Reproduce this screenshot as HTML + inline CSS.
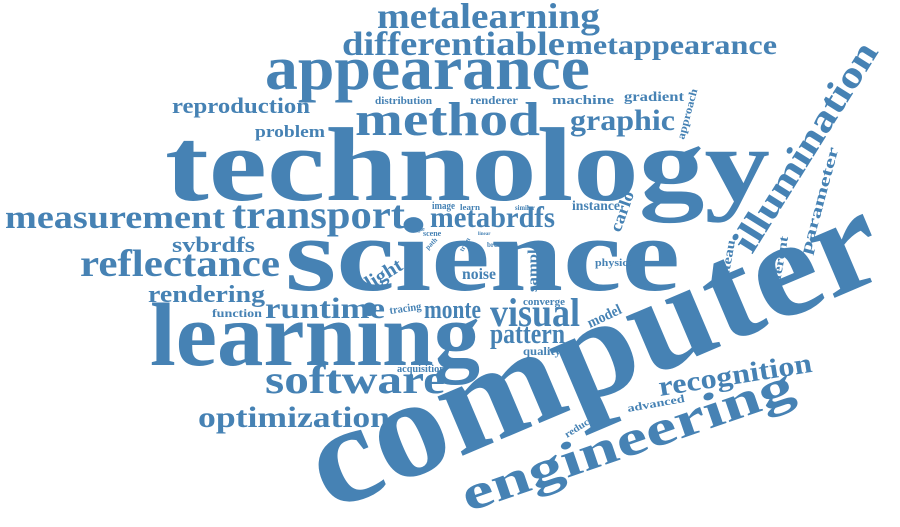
<!DOCTYPE html>
<html><head><meta charset="utf-8"><style>
html,body{margin:0;padding:0;background:#fff;}
svg{display:block}
text{font-family:"Liberation Serif",serif;font-weight:bold;fill:#4682b4;}
</style></head><body>
<svg width="900" height="527" viewBox="0 0 900 527">
<text x="377" y="28" font-size="36" textLength="223" lengthAdjust="spacingAndGlyphs">metalearning</text>
<text x="342" y="55" font-size="34" textLength="223" lengthAdjust="spacingAndGlyphs">differentiable</text>
<text x="566" y="54" font-size="27" textLength="211" lengthAdjust="spacingAndGlyphs">metappearance</text>
<text x="265" y="89" font-size="62" textLength="325" lengthAdjust="spacingAndGlyphs">appearance</text>
<text x="172" y="113" font-size="22" textLength="138" lengthAdjust="spacingAndGlyphs">reproduction</text>
<text x="375" y="104" font-size="11" textLength="57" lengthAdjust="spacingAndGlyphs">distribution</text>
<text x="470" y="104" font-size="12" textLength="48" lengthAdjust="spacingAndGlyphs">renderer</text>
<text x="552" y="104" font-size="13" textLength="62" lengthAdjust="spacingAndGlyphs">machine</text>
<text x="624" y="101" font-size="14" textLength="60" lengthAdjust="spacingAndGlyphs">gradient</text>
<text x="355" y="135" font-size="48" textLength="185" lengthAdjust="spacingAndGlyphs">method</text>
<text x="570" y="130" font-size="30" textLength="105" lengthAdjust="spacingAndGlyphs">graphic</text>
<text x="255" y="137" font-size="17" textLength="70" lengthAdjust="spacingAndGlyphs">problem</text>
<text transform="translate(684,140) rotate(-75)" font-size="11" textLength="52" lengthAdjust="spacingAndGlyphs">approach</text>
<text x="165" y="200" font-size="105" textLength="605" lengthAdjust="spacingAndGlyphs">technology</text>
<text x="5" y="228" font-size="33" textLength="220" lengthAdjust="spacingAndGlyphs">measurement</text>
<text x="232" y="228" font-size="40" textLength="173" lengthAdjust="spacingAndGlyphs">transport</text>
<text x="430" y="227" font-size="30" textLength="125" lengthAdjust="spacingAndGlyphs">metabrdfs</text>
<text x="432" y="209" font-size="10" textLength="23" lengthAdjust="spacingAndGlyphs">image</text>
<text x="460" y="210" font-size="8" textLength="20" lengthAdjust="spacingAndGlyphs">learn</text>
<text x="515" y="210" font-size="7" textLength="20" lengthAdjust="spacingAndGlyphs">similar</text>
<text x="572" y="210" font-size="14" textLength="48" lengthAdjust="spacingAndGlyphs">instance</text>
<text transform="translate(620,233) rotate(-70)" font-size="17" textLength="42" lengthAdjust="spacingAndGlyphs">carlo</text>
<text x="410" y="231" font-size="6">single</text>
<text x="423" y="236" font-size="8">scene</text>
<text x="478" y="235" font-size="5">linear</text>
<text transform="translate(428,250) rotate(-45)" font-size="7">path</text>
<text transform="translate(463,252) rotate(-60)" font-size="7">train</text>
<text x="487" y="247" font-size="7">brdf</text>
<text x="172" y="252" font-size="22" textLength="83" lengthAdjust="spacingAndGlyphs">svbrdfs</text>
<text x="285" y="290" font-size="105" textLength="395" lengthAdjust="spacingAndGlyphs">science</text>
<text x="80" y="276" font-size="38" textLength="200" lengthAdjust="spacingAndGlyphs">reflectance</text>
<text transform="translate(370,290) rotate(-32)" font-size="20" textLength="40" lengthAdjust="spacingAndGlyphs">light</text>
<text x="462" y="279" font-size="16" textLength="34" lengthAdjust="spacingAndGlyphs">noise</text>
<text transform="translate(537,292) rotate(-90)" font-size="14" textLength="50" lengthAdjust="spacingAndGlyphs">sample</text>
<text x="595" y="266" font-size="10" textLength="42" lengthAdjust="spacingAndGlyphs">physical</text>
<text transform="translate(726,292) rotate(-80)" font-size="13" textLength="52" lengthAdjust="spacingAndGlyphs">plateau</text>
<text transform="translate(777,300) rotate(-80)" font-size="13" textLength="64" lengthAdjust="spacingAndGlyphs">different</text>
<text transform="translate(810,255) rotate(-75)" font-size="16" textLength="110" lengthAdjust="spacingAndGlyphs">parameter</text>
<text transform="translate(752,255) rotate(-58)" font-size="38" textLength="240" lengthAdjust="spacingAndGlyphs">illumination</text>
<text x="148" y="302" font-size="24" textLength="117" lengthAdjust="spacingAndGlyphs">rendering</text>
<text x="212" y="317" font-size="12" textLength="50" lengthAdjust="spacingAndGlyphs">function</text>
<text x="265" y="318" font-size="30" textLength="120" lengthAdjust="spacingAndGlyphs">runtime</text>
<text transform="translate(390,314) rotate(-8)" font-size="11" textLength="32" lengthAdjust="spacingAndGlyphs">tracing</text>
<text x="424" y="318" font-size="26" textLength="57" lengthAdjust="spacingAndGlyphs">monte</text>
<text x="523" y="305" font-size="11" textLength="42" lengthAdjust="spacingAndGlyphs">converge</text>
<text x="490" y="326" font-size="40" textLength="90" lengthAdjust="spacingAndGlyphs">visual</text>
<text transform="translate(590,328) rotate(-25)" font-size="15" textLength="36" lengthAdjust="spacingAndGlyphs">model</text>
<text x="150" y="365" font-size="90" textLength="330" lengthAdjust="spacingAndGlyphs">learning</text>
<text x="490" y="343" font-size="28" textLength="75" lengthAdjust="spacingAndGlyphs">pattern</text>
<text x="523" y="355" font-size="12" textLength="38" lengthAdjust="spacingAndGlyphs">quality</text>
<text x="397" y="372" font-size="10" textLength="48" lengthAdjust="spacingAndGlyphs">acquisition</text>
<text x="265" y="393" font-size="40" textLength="180" lengthAdjust="spacingAndGlyphs">software</text>
<text x="198" y="427" font-size="30" textLength="192" lengthAdjust="spacingAndGlyphs">optimization</text>
<text transform="translate(660,396) rotate(-9)" font-size="28" textLength="155" lengthAdjust="spacingAndGlyphs">recognition</text>
<text transform="translate(628,412) rotate(-10)" font-size="11" textLength="58" lengthAdjust="spacingAndGlyphs">advanced</text>
<text transform="translate(567,438) rotate(-32)" font-size="10" textLength="38" lengthAdjust="spacingAndGlyphs">reduced</text>
<text transform="translate(330,512) rotate(-23)" font-size="140" textLength="610" lengthAdjust="spacingAndGlyphs">computer</text>
<text transform="translate(468,512) rotate(-19)" font-size="50" textLength="348" lengthAdjust="spacingAndGlyphs">engineering</text>
</svg>
</body></html>
